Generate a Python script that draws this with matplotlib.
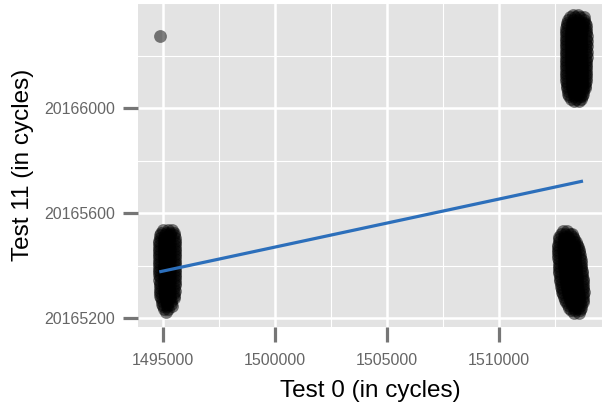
import matplotlib
matplotlib.use("Agg")
from matplotlib import pyplot as plt
from matplotlib.ticker import MultipleLocator

plt.rcParams['font.family'] = ['Liberation Sans', 'DejaVu Sans']

# points, grouped by Test 11 value: (Test 11, [Test 0 values]), in cycles
left_rows = [
    (20165535, [1495000, 1495250, 1495420]),
    (20165525, [1494900, 1495120, 1495340, 1495480]),
    (20165515, [1494870, 1495080, 1495300, 1495510]),
    (20165505, [1494850, 1495060, 1495280, 1495530]),
    (20165495, [1494840, 1495040, 1495290, 1495540]),
    (20165485, [1494830, 1495070, 1495310, 1495550]),
    (20165475, [1494840, 1495050, 1495280, 1495540]),
    (20165465, [1494830, 1495060, 1495300, 1495560]),
    (20165455, [1494820, 1495040, 1495290, 1495550]),
    (20165445, [1494840, 1495070, 1495310, 1495540]),
    (20165435, [1494830, 1495050, 1495270, 1495560]),
    (20165425, [1494820, 1495060, 1495300, 1495550]),
    (20165415, [1494840, 1495080, 1495290, 1495540]),
    (20165405, [1494830, 1495050, 1495310, 1495560]),
    (20165395, [1494820, 1495060, 1495280, 1495550]),
    (20165385, [1494840, 1495070, 1495300, 1495540]),
    (20165375, [1494830, 1495040, 1495290, 1495560]),
    (20165365, [1494840, 1495060, 1495310, 1495550]),
    (20165355, [1494850, 1495080, 1495280, 1495530]),
    (20165345, [1494840, 1495050, 1495300, 1495540]),
    (20165335, [1494860, 1495070, 1495290, 1495520]),
    (20165325, [1494850, 1495060, 1495310, 1495530]),
    (20165315, [1494870, 1495080, 1495280, 1495510]),
    (20165305, [1494860, 1495070, 1495300, 1495520]),
    (20165295, [1494880, 1495090, 1495290, 1495500]),
    (20165285, [1494890, 1495100, 1495310, 1495490]),
    (20165275, [1494910, 1495110, 1495300, 1495480]),
    (20165265, [1494940, 1495140, 1495350]),
    (20165255, [1494970, 1495170, 1495380]),
    (20165245, [1495000, 1495200, 1495400]),
    (20165235, [1495050, 1495250]),
    (20165225, [1495150]),
]

top_rows = [
    (20166355, [1513300, 1513520]),
    (20166345, [1513150, 1513380, 1513620, 1513780]),
    (20166335, [1513080, 1513300, 1513540, 1513800]),
    (20166325, [1513040, 1513270, 1513500, 1513730, 1513850]),
    (20166315, [1513020, 1513250, 1513480, 1513710, 1513880]),
    (20166305, [1513010, 1513240, 1513470, 1513700, 1513890]),
    (20166295, [1513000, 1513230, 1513460, 1513690, 1513900]),
    (20166285, [1512990, 1513220, 1513450, 1513680, 1513900]),
    (20166275, [1512990, 1513210, 1513440, 1513670, 1513910]),
    (20166265, [1512980, 1513220, 1513450, 1513680, 1513900]),
    (20166255, [1512990, 1513200, 1513430, 1513660, 1513910]),
    (20166245, [1512980, 1513210, 1513440, 1513670, 1513900]),
    (20166235, [1512990, 1513220, 1513450, 1513690, 1513910]),
    (20166225, [1512980, 1513200, 1513430, 1513660, 1513900]),
    (20166215, [1512990, 1513210, 1513440, 1513680, 1513910]),
    (20166205, [1512990, 1513220, 1513460, 1513690, 1513900]),
    (20166195, [1512980, 1513210, 1513450, 1513670, 1513910]),
    (20166185, [1512990, 1513230, 1513460, 1513690, 1513900]),
    (20166175, [1513000, 1513220, 1513450, 1513680, 1513890]),
    (20166165, [1512990, 1513230, 1513470, 1513700, 1513900]),
    (20166155, [1513000, 1513240, 1513460, 1513690, 1513890]),
    (20166145, [1513000, 1513230, 1513470, 1513700, 1513880]),
    (20166135, [1513010, 1513240, 1513460, 1513690, 1513890]),
    (20166125, [1513000, 1513230, 1513470, 1513700, 1513880]),
    (20166115, [1513010, 1513250, 1513480, 1513710, 1513870]),
    (20166105, [1513010, 1513240, 1513470, 1513700, 1513880]),
    (20166095, [1513020, 1513250, 1513480, 1513710, 1513860]),
    (20166085, [1513030, 1513260, 1513490, 1513720, 1513840]),
    (20166075, [1513050, 1513280, 1513510, 1513740, 1513820]),
    (20166065, [1513070, 1513300, 1513530, 1513760]),
    (20166055, [1513100, 1513330, 1513560, 1513750]),
    (20166045, [1513140, 1513370, 1513600, 1513720]),
    (20166035, [1513220, 1513450, 1513650]),
    (20166028, [1513350, 1513550]),
]

bot_rows = [
    (20165530, [1512850, 1513050]),
    (20165520, [1512750, 1512950, 1513150, 1513250]),
    (20165510, [1512700, 1512900, 1513100, 1513300]),
    (20165500, [1512680, 1512890, 1513110, 1513330]),
    (20165490, [1512660, 1512880, 1513100, 1513340, 1513450]),
    (20165480, [1512650, 1512870, 1513110, 1513350, 1513500]),
    (20165470, [1512650, 1512880, 1513120, 1513360, 1513530]),
    (20165460, [1512640, 1512870, 1513110, 1513370, 1513560]),
    (20165450, [1512640, 1512880, 1513120, 1513380, 1513580]),
    (20165440, [1512650, 1512890, 1513130, 1513390, 1513600]),
    (20165430, [1512650, 1512880, 1513140, 1513400, 1513620]),
    (20165420, [1512660, 1512900, 1513150, 1513400, 1513640]),
    (20165410, [1512660, 1512910, 1513150, 1513410, 1513650]),
    (20165400, [1512670, 1512920, 1513160, 1513420, 1513670]),
    (20165390, [1512680, 1512920, 1513170, 1513430, 1513680]),
    (20165380, [1512690, 1512930, 1513180, 1513440, 1513700]),
    (20165370, [1512700, 1512940, 1513190, 1513450, 1513710]),
    (20165360, [1512710, 1512950, 1513200, 1513460, 1513720]),
    (20165350, [1512720, 1512960, 1513210, 1513460, 1513740]),
    (20165340, [1512740, 1512980, 1513220, 1513470, 1513750]),
    (20165330, [1512760, 1513000, 1513240, 1513480, 1513760]),
    (20165320, [1512780, 1513020, 1513260, 1513500, 1513770]),
    (20165310, [1512800, 1513040, 1513280, 1513510, 1513770]),
    (20165300, [1512830, 1513060, 1513300, 1513530, 1513780]),
    (20165290, [1512860, 1513090, 1513320, 1513550, 1513770]),
    (20165280, [1512900, 1513120, 1513340, 1513570, 1513760]),
    (20165270, [1512950, 1513160, 1513380, 1513590, 1513750]),
    (20165260, [1513000, 1513210, 1513420, 1513620, 1513740]),
    (20165250, [1513060, 1513270, 1513470, 1513660]),
    (20165240, [1513120, 1513330, 1513530, 1513680]),
    (20165230, [1513200, 1513400, 1513600]),
    (20165220, [1513350, 1513550]),
]

outlier_rows = [(20166274, [1494866])]

# linear fit end points
fit_x = [1494840, 1513750]
fit_y = [20165376, 20165722]

xticks = [1495000, 1500000, 1505000, 1510000]
yticks = [20165200, 20165600, 20166000]

fig = plt.figure(figsize=(6.02, 4.08), dpi=100)
ax = fig.add_axes([0.229, 0.1985, 0.771, 0.794])
ax.set_facecolor('#e3e3e3')
for s in ax.spines.values():
    s.set_visible(False)

xs, ys = [], []
for y, row in left_rows + top_rows + bot_rows + outlier_rows:
    for x in row:
        xs.append(x)
        ys.append(y)
ax.scatter(xs, ys, s=85, color='black', alpha=0.5, linewidths=0, zorder=3)
ax.plot(fit_x, fit_y, color='#2c6fbb', lw=2.3, zorder=4, solid_capstyle='butt')

ax.set_xlim(1493884, 1514598)
ax.set_ylim(20165166, 20166400)
ax.set_xticks(xticks)
ax.set_yticks(yticks)
ax.set_xticklabels([str(v) for v in xticks])
ax.set_yticklabels([str(v) for v in yticks])
ax.xaxis.set_minor_locator(MultipleLocator(2500))
ax.yaxis.set_minor_locator(MultipleLocator(200))
ax.grid(which='major', color='white', lw=1.8, zorder=1)
ax.grid(which='minor', color='white', lw=0.8, zorder=1)
ax.set_axisbelow(True)
ax.tick_params(which='major', length=11, width=2.3, color='#767676',
               labelsize=11.5, labelcolor='#666666', pad=5.5)
ax.tick_params(axis='x', which='major', pad=8)
ax.tick_params(which='minor', length=0)

ax.set_xlabel('Test 0 (in cycles)', fontsize=17.5, labelpad=8)
ax.set_ylabel('Test 11 (in cycles)', fontsize=17.5, labelpad=7)

fig.savefig('out.png', dpi=100)
